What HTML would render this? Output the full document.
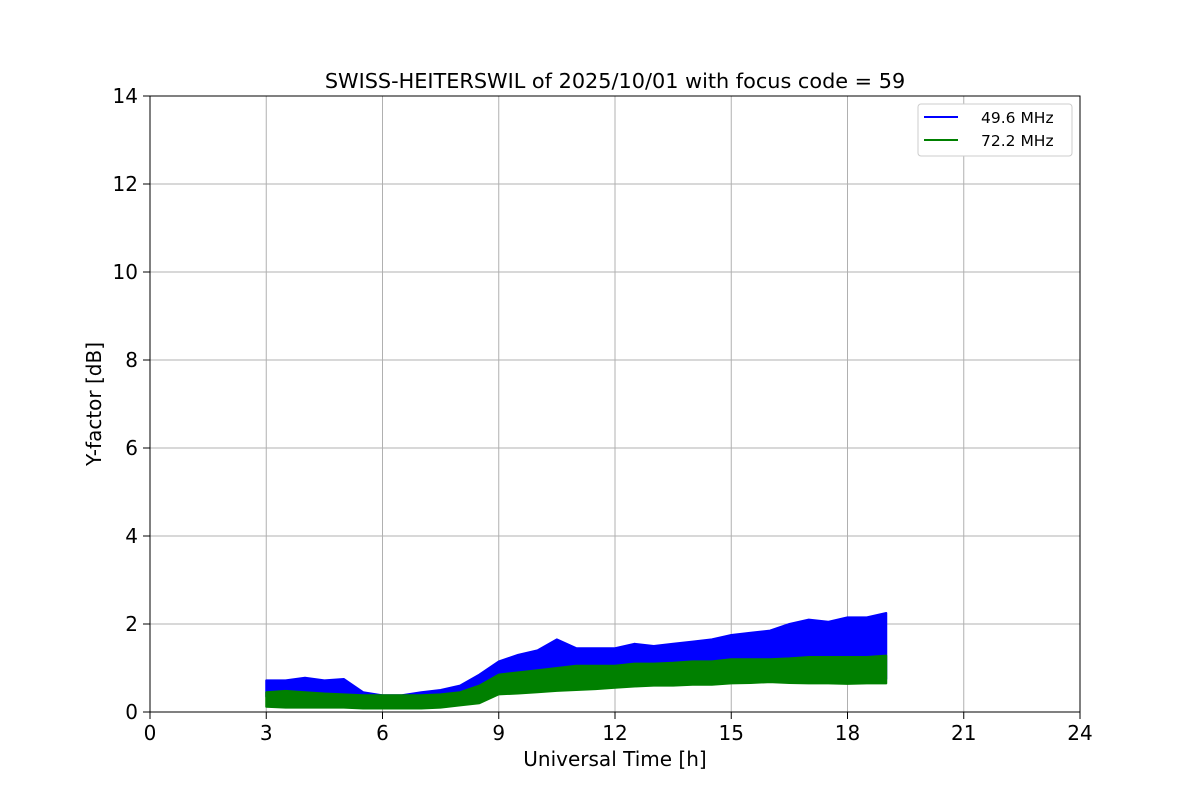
<!DOCTYPE html>
<html><head><meta charset="utf-8"><style>
body{margin:0;background:#fff;font-family:"Liberation Sans","DejaVu Sans",sans-serif}
svg text{font-family:"DejaVu Sans","Liberation Sans",sans-serif}
</style></head><body>
<svg id="chart" width="1200" height="800" xmlns="http://www.w3.org/2000/svg">
<rect width="1200" height="800" fill="#fff"/>
<g id="grid"></g>
<g id="series"></g>
<rect x="150" y="96" width="930" height="616" fill="none" stroke="#000" stroke-width="1"/>
<g id="ticks"></g>
<text x="615" y="88" font-size="20.8" text-anchor="middle">SWISS-HEITERSWIL of 2025/10/01 with focus code = 59</text>
<text x="615" y="766" font-size="20" text-anchor="middle">Universal Time [h]</text>
<text x="101" y="404" font-size="20" text-anchor="middle" transform="rotate(-90 101 404)">Y-factor [dB]</text>
<g>
<rect x="918" y="104" width="154" height="52" rx="3" fill="#fff" stroke="#ccc"/>
<line x1="924" y1="117" x2="958" y2="117" stroke="#0000ff" stroke-width="2"/>
<text x="981" y="123" font-size="15.5">49.6 MHz</text>
<line x1="924" y1="140" x2="958" y2="140" stroke="#008000" stroke-width="2"/>
<text x="981" y="146" font-size="15.5">72.2 MHz</text>
</g>
</svg>
<script>
const times=[3,3.5,4,4.5,5,5.5,6,6.5,7,7.5,8,8.5,9,9.5,10,10.5,11,11.5,12,12.5,13,13.5,14,14.5,15,15.5,16,16.5,17,17.5,18,18.5,19];
const blueUpper=[0.72,0.72,0.78,0.72,0.75,0.45,0.38,0.38,0.45,0.5,0.6,0.85,1.15,1.3,1.4,1.65,1.45,1.45,1.45,1.55,1.5,1.55,1.6,1.65,1.75,1.8,1.85,2.0,2.1,2.05,2.15,2.15,2.25];
const blueLower=[0.35,0.3,0.3,0.3,0.25,0.2,0.15,0.15,0.15,0.2,0.25,0.3,0.45,0.5,0.55,0.6,0.6,0.65,0.65,0.7,0.7,0.72,0.75,0.75,0.78,0.8,0.8,0.75,0.72,0.7,0.7,0.72,0.75];
const greenUpper=[0.45,0.48,0.45,0.42,0.4,0.38,0.38,0.38,0.38,0.4,0.45,0.6,0.85,0.9,0.95,1.0,1.05,1.05,1.05,1.1,1.1,1.12,1.15,1.15,1.2,1.2,1.2,1.22,1.25,1.25,1.25,1.25,1.28];
const greenLower=[0.12,0.1,0.1,0.1,0.1,0.08,0.08,0.08,0.08,0.1,0.15,0.2,0.4,0.42,0.45,0.48,0.5,0.52,0.55,0.58,0.6,0.6,0.62,0.62,0.65,0.66,0.68,0.66,0.65,0.65,0.64,0.65,0.65];
const xTicks=[0,3,6,9,12,15,18,21,24];
const yTicks=[0,2,4,6,8,10,12,14];
const NS="http://www.w3.org/2000/svg";
const X=t=>150+t*930/24, Y=v=>712-v*616/14;
const grid=document.getElementById('grid'),ticks=document.getElementById('ticks'),series=document.getElementById('series');
function mk(tag,attrs,parent){const e=document.createElementNS(NS,tag);for(const k in attrs)e.setAttribute(k,attrs[k]);parent.appendChild(e);return e;}
xTicks.forEach(t=>{
 const g=mk('line',{x1:X(t),x2:X(t),y1:96,y2:712,stroke:'#b0b0b0','stroke-width':1},grid);
 
 
 const tk=mk('line',{x1:X(t),x2:X(t),y1:712,y2:719,stroke:'#000'},ticks);
 
 
 const tx=mk('text',{x:X(t),y:740,'font-size':20,'text-anchor':'middle'},ticks);tx.textContent=t;
 
 
});
yTicks.forEach(v=>{
 const g=mk('line',{x1:150,x2:1080,y1:Y(v),y2:Y(v),stroke:'#b0b0b0','stroke-width':1},grid);
 
 
 const tk=mk('line',{x1:143,x2:150,y1:Y(v),y2:Y(v),stroke:'#000'},ticks);
 
 
 const tx=mk('text',{x:138,y:Y(v)+7,'font-size':20,'text-anchor':'end'},ticks);tx.textContent=v;
 
 
});
function band(up,lo,color,name){
 let pts=[];
 times.forEach((t,i)=>pts.push(X(t)+','+Y(up[i])));
 for(let i=times.length-1;i>=0;i--)pts.push(X(times[i])+','+Y(lo[i]));
 const p=mk('polygon',{points:pts.join(' '),fill:color,stroke:color,'stroke-width':2,'stroke-linejoin':'round'},series);
 
 
}
band(blueUpper,blueLower,'#0000ff','series-49-6-mhz');
band(greenUpper,greenLower,'#008000','series-72-2-mhz');
</script>
</body></html>
